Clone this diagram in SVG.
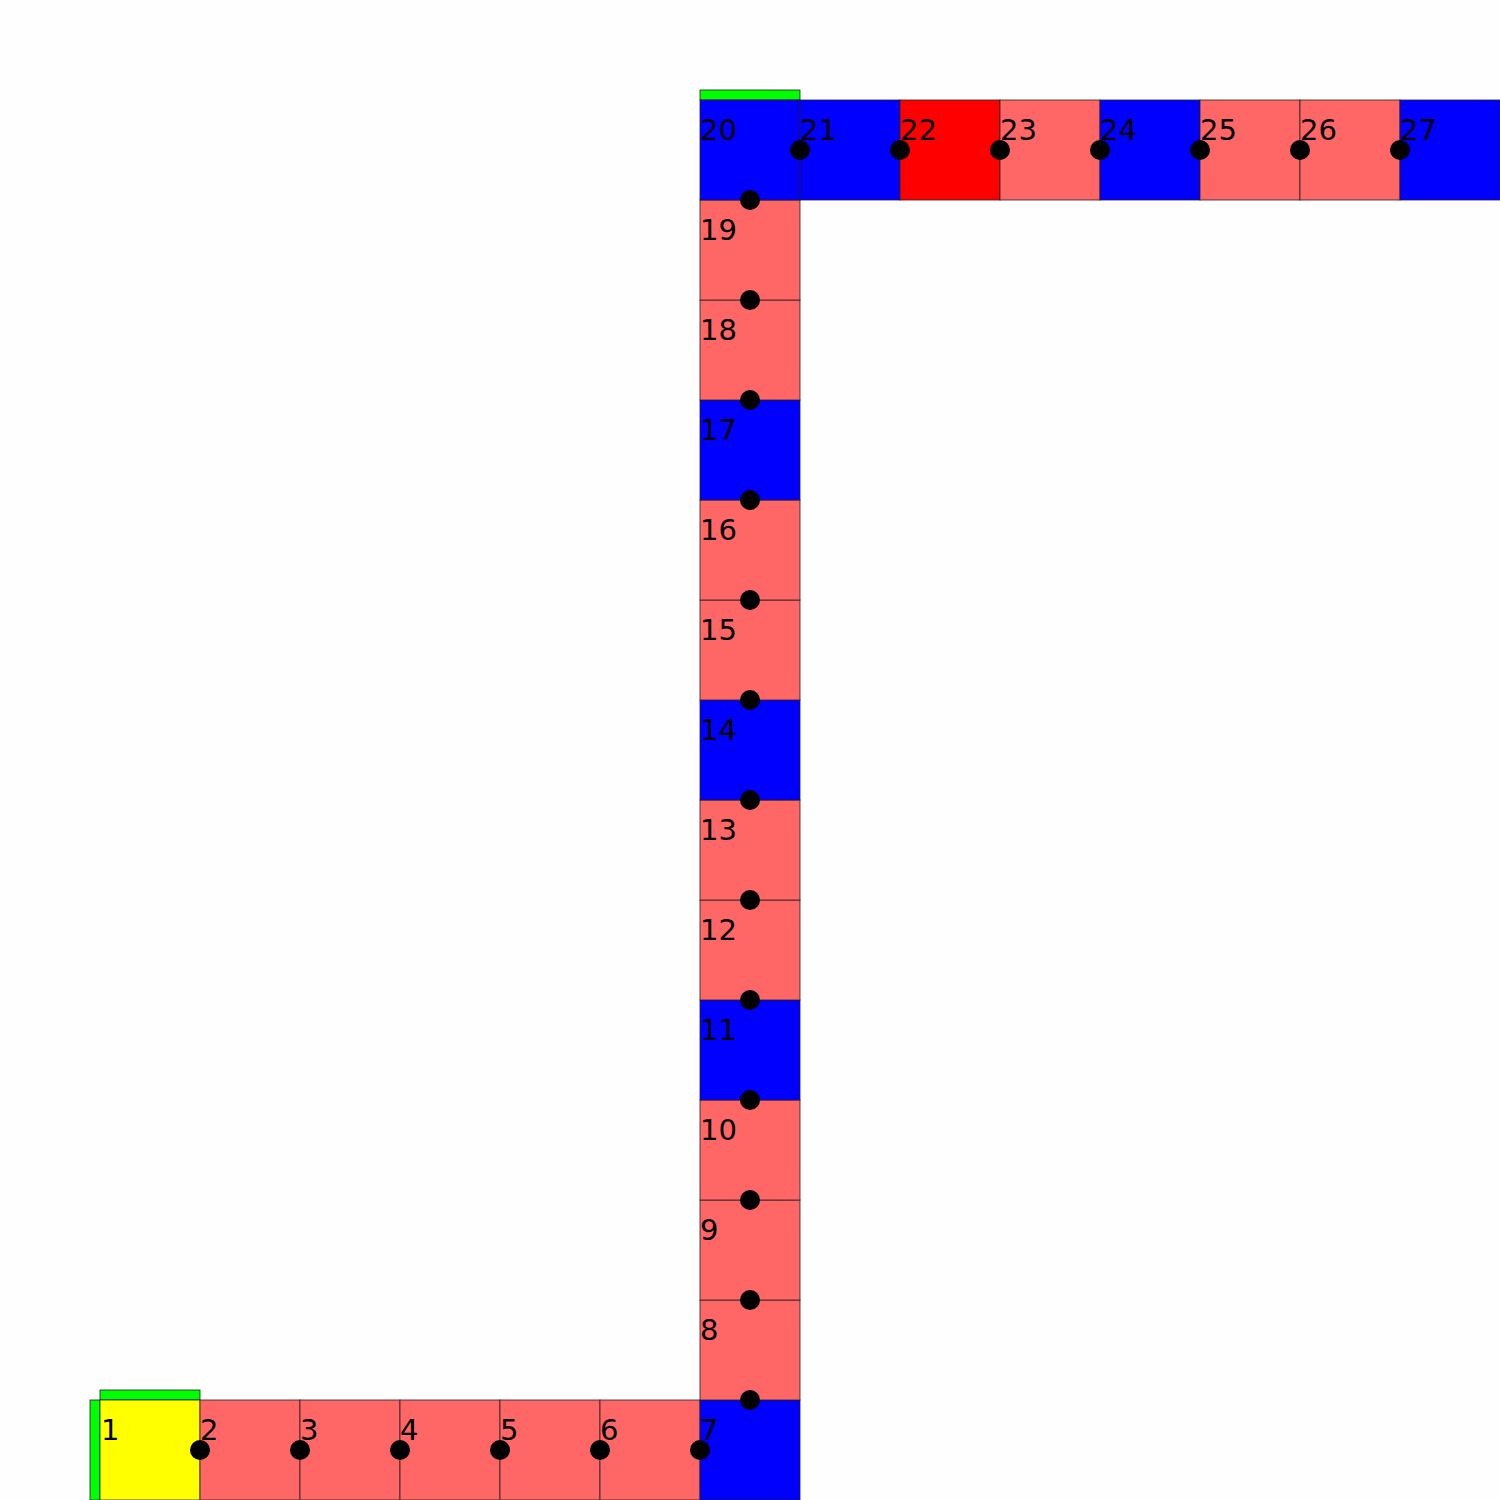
<svg xmlns="http://www.w3.org/2000/svg" width="1500" height="1500" viewBox="0 0 1500 1500">
<style>
.c{stroke:#222;stroke-opacity:0.8;stroke-width:1}
.s{fill:#ff6666}.b{fill:#0000ff}.r{fill:#ff0000}.y{fill:#ffff00}.g{fill:#00ff00}
text{font-family:"DejaVu Sans",sans-serif;font-size:29px;fill:#000}
.d{fill:#000}
</style>
<rect width="1500" height="1500" fill="#fefefe"/>
<g id="start-bars">
<rect class="c g" x="90" y="1400" width="10" height="100"/>
<rect class="c g" x="100" y="1390" width="100" height="10"/>
<rect class="c g" x="700" y="90" width="100" height="10"/>
</g>
<g id="n1"><rect class="c y" x="100" y="1400" width="100" height="100"/><text x="101" y="1440">1</text></g>
<g id="n2"><rect class="c s" x="200" y="1400" width="100" height="100"/><text x="200" y="1440">2</text></g>
<g id="n3"><rect class="c s" x="300" y="1400" width="100" height="100"/><text x="300" y="1440">3</text></g>
<g id="n4"><rect class="c s" x="400" y="1400" width="100" height="100"/><text x="400" y="1440">4</text></g>
<g id="n5"><rect class="c s" x="500" y="1400" width="100" height="100"/><text x="500" y="1440">5</text></g>
<g id="n6"><rect class="c s" x="600" y="1400" width="100" height="100"/><text x="600" y="1440">6</text></g>
<g id="n7"><rect class="c b" x="700" y="1400" width="100" height="100"/><text x="700" y="1440">7</text></g>
<g id="n8"><rect class="c s" x="700" y="1300" width="100" height="100"/><text x="700" y="1340">8</text></g>
<g id="n9"><rect class="c s" x="700" y="1200" width="100" height="100"/><text x="700" y="1240">9</text></g>
<g id="n10"><rect class="c s" x="700" y="1100" width="100" height="100"/><text x="700" y="1140">10</text></g>
<g id="n11"><rect class="c b" x="700" y="1000" width="100" height="100"/><text x="700" y="1040">11</text></g>
<g id="n12"><rect class="c s" x="700" y="900" width="100" height="100"/><text x="700" y="940">12</text></g>
<g id="n13"><rect class="c s" x="700" y="800" width="100" height="100"/><text x="700" y="840">13</text></g>
<g id="n14"><rect class="c b" x="700" y="700" width="100" height="100"/><text x="700" y="740">14</text></g>
<g id="n15"><rect class="c s" x="700" y="600" width="100" height="100"/><text x="700" y="640">15</text></g>
<g id="n16"><rect class="c s" x="700" y="500" width="100" height="100"/><text x="700" y="540">16</text></g>
<g id="n17"><rect class="c b" x="700" y="400" width="100" height="100"/><text x="700" y="440">17</text></g>
<g id="n18"><rect class="c s" x="700" y="300" width="100" height="100"/><text x="700" y="340">18</text></g>
<g id="n19"><rect class="c s" x="700" y="200" width="100" height="100"/><text x="700" y="240">19</text></g>
<g id="n20"><rect class="c b" x="700" y="100" width="100" height="100"/><text x="700" y="140">20</text></g>
<g id="n21"><rect class="c b" x="800" y="100" width="100" height="100"/><text x="800" y="140">21</text></g>
<g id="n22"><rect class="c r" x="900" y="100" width="100" height="100"/><text x="900" y="140">22</text></g>
<g id="n23"><rect class="c s" x="1000" y="100" width="100" height="100"/><text x="1000" y="140">23</text></g>
<g id="n24"><rect class="c b" x="1100" y="100" width="100" height="100"/><text x="1100" y="140">24</text></g>
<g id="n25"><rect class="c s" x="1200" y="100" width="100" height="100"/><text x="1200" y="140">25</text></g>
<g id="n26"><rect class="c s" x="1300" y="100" width="100" height="100"/><text x="1300" y="140">26</text></g>
<g id="n27"><rect class="c b" x="1400" y="100" width="100" height="100"/><text x="1400" y="140">27</text></g>
<g id="connectors">
<circle class="d" cx="200" cy="1450" r="10"/>
<circle class="d" cx="300" cy="1450" r="10"/>
<circle class="d" cx="400" cy="1450" r="10"/>
<circle class="d" cx="500" cy="1450" r="10"/>
<circle class="d" cx="600" cy="1450" r="10"/>
<circle class="d" cx="700" cy="1450" r="10"/>
<circle class="d" cx="750" cy="1400" r="10"/>
<circle class="d" cx="750" cy="1300" r="10"/>
<circle class="d" cx="750" cy="1200" r="10"/>
<circle class="d" cx="750" cy="1100" r="10"/>
<circle class="d" cx="750" cy="1000" r="10"/>
<circle class="d" cx="750" cy="900" r="10"/>
<circle class="d" cx="750" cy="800" r="10"/>
<circle class="d" cx="750" cy="700" r="10"/>
<circle class="d" cx="750" cy="600" r="10"/>
<circle class="d" cx="750" cy="500" r="10"/>
<circle class="d" cx="750" cy="400" r="10"/>
<circle class="d" cx="750" cy="300" r="10"/>
<circle class="d" cx="750" cy="200" r="10"/>
<circle class="d" cx="800" cy="150" r="10"/>
<circle class="d" cx="900" cy="150" r="10"/>
<circle class="d" cx="1000" cy="150" r="10"/>
<circle class="d" cx="1100" cy="150" r="10"/>
<circle class="d" cx="1200" cy="150" r="10"/>
<circle class="d" cx="1300" cy="150" r="10"/>
<circle class="d" cx="1400" cy="150" r="10"/>
</g>
</svg>
